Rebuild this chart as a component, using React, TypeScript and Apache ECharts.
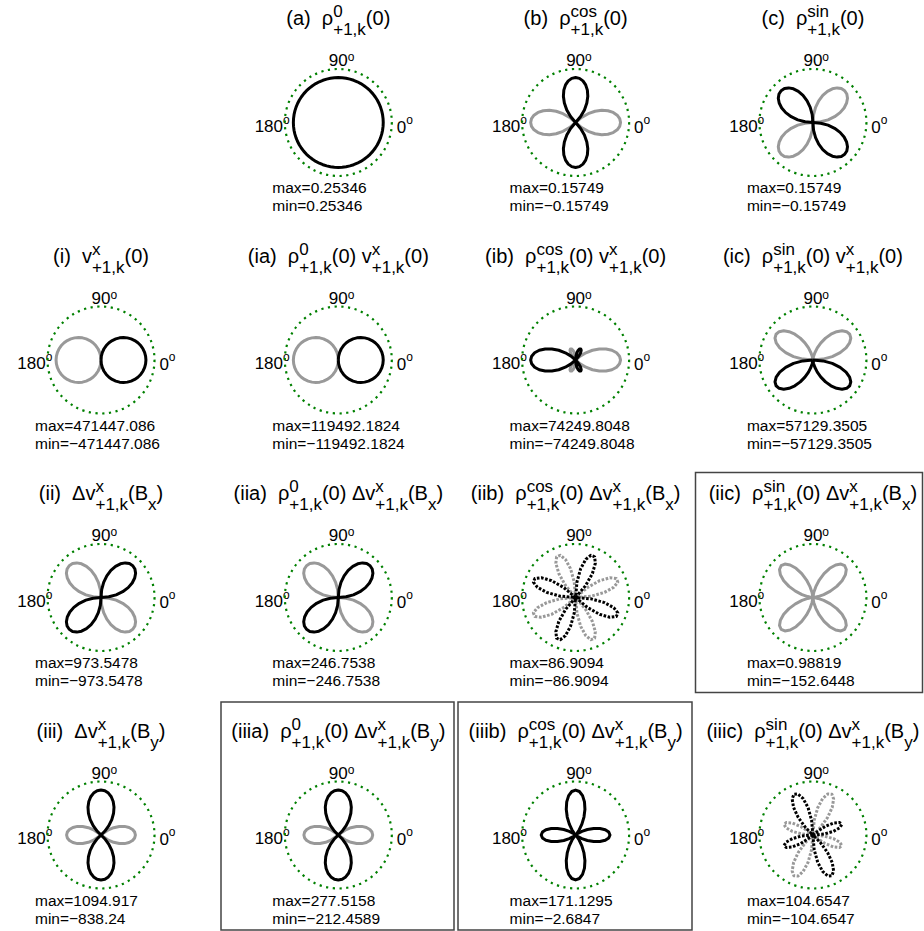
import React, { useEffect, useRef } from 'react';
import * as echarts from 'echarts';

// Sample angles of every angular pattern (degrees, 0 = +x, counter-clockwise)
const ANGLES = [0, 5, 10, 15, 20, 25, 30, 35, 40, 45, 50, 55, 60, 65, 70, 75, 80, 85, 90, 95,
  100, 105, 110, 115, 120, 125, 130, 135, 140, 145, 150, 155, 160, 165, 170, 175, 180, 185, 190, 195,
  200, 205, 210, 215, 220, 225, 230, 235, 240, 245, 250, 255, 260, 265, 270, 275, 280, 285, 290, 295,
  300, 305, 310, 315, 320, 325, 330, 335, 340, 345, 350, 355];

// Angular shapes of the density factors (fraction of each factor's peak)
const RHO0_SHAPE = [1, 1, 1, 1, 1, 1, 1, 1, 1, 1, 1, 1, 1, 1, 1, 1, 1, 1, 1, 1, 1, 1, 1, 1, 1, 1, 1, 1, 1, 1, 1, 1, 1, 1, 1, 1,
  1, 1, 1, 1, 1, 1, 1, 1, 1, 1, 1, 1, 1, 1, 1, 1, 1, 1, 1, 1, 1, 1, 1, 1, 1, 1, 1, 1, 1, 1, 1, 1, 1, 1, 1, 1];
const RHO_COS_SHAPE = [
  -1, -0.985, -0.94, -0.866, -0.766, -0.643, -0.5, -0.342, -0.174, 0, 0.174, 0.342, 0.5, 0.643, 0.766, 0.866, 0.94, 0.985,
  1, 0.985, 0.94, 0.866, 0.766, 0.643, 0.5, 0.342, 0.174, 0, -0.174, -0.342, -0.5, -0.643, -0.766, -0.866, -0.94, -0.985,
  -1, -0.985, -0.94, -0.866, -0.766, -0.643, -0.5, -0.342, -0.174, 0, 0.174, 0.342, 0.5, 0.643, 0.766, 0.866, 0.94, 0.985,
  1, 0.985, 0.94, 0.866, 0.766, 0.643, 0.5, 0.342, 0.174, 0, -0.174, -0.342, -0.5, -0.643, -0.766, -0.866, -0.94, -0.985];
const RHO_SIN_SHAPE = [
  0, -0.174, -0.342, -0.5, -0.643, -0.766, -0.866, -0.94, -0.985, -1, -0.985, -0.94, -0.866, -0.766, -0.643, -0.5, -0.342, -0.174,
  0, 0.174, 0.342, 0.5, 0.643, 0.766, 0.866, 0.94, 0.985, 1, 0.985, 0.94, 0.866, 0.766, 0.643, 0.5, 0.342, 0.174,
  0, -0.174, -0.342, -0.5, -0.643, -0.766, -0.866, -0.94, -0.985, -1, -0.985, -0.94, -0.866, -0.766, -0.643, -0.5, -0.342, -0.174,
  0, 0.174, 0.342, 0.5, 0.643, 0.766, 0.866, 0.94, 0.985, 1, 0.985, 0.94, 0.866, 0.766, 0.643, 0.5, 0.342, 0.174];

// Angular shapes of the velocity factors (fraction of each factor's peak)
const VX_SHAPE = [
  1, 0.996, 0.985, 0.966, 0.94, 0.906, 0.866, 0.819, 0.766, 0.707, 0.643, 0.574, 0.5, 0.423, 0.342, 0.259, 0.174, 0.087,
  0, -0.087, -0.174, -0.259, -0.342, -0.423, -0.5, -0.574, -0.643, -0.707, -0.766, -0.819, -0.866, -0.906, -0.94, -0.966, -0.985, -0.996,
  -1, -0.996, -0.985, -0.966, -0.94, -0.906, -0.866, -0.819, -0.766, -0.707, -0.643, -0.574, -0.5, -0.423, -0.342, -0.259, -0.174, -0.087,
  0, 0.087, 0.174, 0.259, 0.342, 0.423, 0.5, 0.574, 0.643, 0.707, 0.766, 0.819, 0.866, 0.906, 0.94, 0.966, 0.985, 0.996];
const DVX_BX_SHAPE = [
  0, 0.174, 0.342, 0.5, 0.643, 0.766, 0.866, 0.94, 0.985, 1, 0.985, 0.94, 0.866, 0.766, 0.643, 0.5, 0.342, 0.174,
  0, -0.174, -0.342, -0.5, -0.643, -0.766, -0.866, -0.94, -0.985, -1, -0.985, -0.94, -0.866, -0.766, -0.643, -0.5, -0.342, -0.174,
  0, 0.174, 0.342, 0.5, 0.643, 0.766, 0.866, 0.94, 0.985, 1, 0.985, 0.94, 0.866, 0.766, 0.643, 0.5, 0.342, 0.174,
  0, -0.174, -0.342, -0.5, -0.643, -0.766, -0.866, -0.94, -0.985, -1, -0.985, -0.94, -0.866, -0.766, -0.643, -0.5, -0.342, -0.174];
const DVX_BY_SHAPE = [
  -0.7656, -0.752, -0.713, -0.647, -0.559, -0.45, -0.324, -0.185, -0.036, 0.117, 0.271, 0.419, 0.559, 0.685, 0.793, 0.882, 0.947, 0.987,
  1, 0.987, 0.947, 0.882, 0.793, 0.685, 0.559, 0.419, 0.271, 0.117, -0.036, -0.185, -0.324, -0.45, -0.559, -0.647, -0.713, -0.752,
  -0.7656, -0.752, -0.713, -0.647, -0.559, -0.45, -0.324, -0.185, -0.036, 0.117, 0.271, 0.419, 0.559, 0.685, 0.793, 0.882, 0.947, 0.987,
  1, 0.987, 0.947, 0.882, 0.793, 0.685, 0.559, 0.419, 0.271, 0.117, -0.036, -0.185, -0.324, -0.45, -0.559, -0.647, -0.713, -0.752];

const DENSITY_SHAPES = [RHO0_SHAPE, RHO_COS_SHAPE, RHO_SIN_SHAPE];
const DENSITY_PEAKS = [0.25346, 0.15749, 0.15749];
const DENSITY_SUPS = ['0', 'cos', 'sin'];
const VELOCITY_SHAPES = [VX_SHAPE, DVX_BX_SHAPE, DVX_BY_SHAPE];
const VELOCITY_PEAKS = [471447.086, 973.5478, 1094.917];
const VELOCITY_BASES = ['v', 'Δv', 'Δv'];
const VELOCITY_FIELDS = ['', 'x', 'y'];

// Panels: tag, density factor index, velocity factor index (-1 = absent)
const PANEL_TAGS = ['(a)', '(b)', '(c)', '(i)', '(ia)', '(ib)', '(ic)', '(ii)', '(iia)', '(iib)', '(iic)', '(iii)', '(iiia)', '(iiib)', '(iiic)'];
const PANEL_DENSITY = [0, 1, 2, -1, 0, 1, 2, -1, 0, 1, 2, -1, 0, 1, 2];
const PANEL_VELOCITY = [-1, -1, -1, 0, 0, 0, 0, 1, 1, 1, 1, 2, 2, 2, 2];
const MAX_VALUES = [0.25346, 0.15749, 0.15749, 471447.086, 119492.1824, 74249.8048, 57129.3505,
  973.5478, 246.7538, 86.9094, 0.98819, 1094.917, 277.5158, 171.1295, 104.6547];
const MIN_VALUES = [0.25346, -0.15749, -0.15749, -471447.086, -119492.1824, -74249.8048, -57129.3505,
  -973.5478, -246.7538, -86.9094, -152.6448, -838.24, -212.4589, -2.6847, -104.6547];
const BOXED_TAGS = ['(iic)', '(iiia)', '(iiib)'];
const DOTTED_TAGS = ['(iib)', '(iiic)'];

// ---- layout ----
const FONT = 'Liberation Sans';
const CELL_W = 237.3;
const CELL_H = 237.5;
const X0 = 101;
const Y0 = 122.5;
const R = 53.5;
const CURVE_FRACTION = 0.84;
const TITLE_BASE0 = 25;
const BOX_RECTS: Record<string, number[]> = {
  '(iic)': [695.5, 472.5, 227, 220],
  '(iiia)': [221, 702, 233, 228],
  '(iiib)': [458, 702, 234, 228],
};

let measureCtx: CanvasRenderingContext2D | null = null;
function textWidth(t: string, size: number): number {
  if (!measureCtx) measureCtx = document.createElement('canvas').getContext('2d');
  measureCtx!.font = `${size}px "${FONT}"`;
  return measureCtx!.measureText(t).width;
}

function textEl(t: string, size: number, x: number, baseline: number) {
  return {
    type: 'text',
    x,
    y: baseline - 0.35 * size,
    silent: true,
    style: {
      text: t,
      fontSize: size,
      fontFamily: FONT,
      fill: '#000',
      align: 'left',
      verticalAlign: 'middle',
      textAlign: 'left',
      textVerticalAlign: 'middle',
    },
  };
}

type Item =
  | { t: string; size: number; rise?: number }
  | { stack: { t: string; size: number; rise: number }[] }
  | { gap: number };

function itemWidth(it: Item): number {
  if ('gap' in it) return it.gap;
  if ('stack' in it) return Math.max(...it.stack.map((s) => textWidth(s.t, s.size)));
  return textWidth(it.t, it.size);
}

function placeItems(items: Item[], x: number, baseline: number, els: any[]) {
  let cx = x;
  for (const it of items) {
    if ('stack' in it) {
      for (const s of it.stack) els.push(textEl(s.t, s.size, cx, baseline - s.rise));
    } else if ('t' in it) {
      els.push(textEl(it.t, it.size, cx, baseline - (it.rise || 0)));
    }
    cx += itemWidth(it);
  }
}

function titleItems(k: number): Item[] {
  const F = 20;
  const f = 17;
  const SUP = 7.5;
  const SUB = -10.5;
  const d = PANEL_DENSITY[k];
  const v = PANEL_VELOCITY[k];
  const items: Item[] = [{ t: PANEL_TAGS[k], size: F }, { gap: textWidth('  ', F) }];
  if (d >= 0) {
    items.push({ t: 'ρ', size: F });
    items.push({ stack: [{ t: DENSITY_SUPS[d], size: f, rise: SUP }, { t: '+1,k', size: f, rise: SUB }] });
    items.push({ t: '(0)', size: F });
  }
  if (v >= 0) {
    if (d >= 0) items.push({ gap: textWidth(' ', F) });
    items.push({ t: VELOCITY_BASES[v], size: F });
    items.push({ stack: [{ t: 'x', size: f, rise: SUP }, { t: '+1,k', size: f, rise: SUB }] });
    if (VELOCITY_FIELDS[v]) {
      items.push({ t: '(B', size: F });
      items.push({ t: VELOCITY_FIELDS[v], size: f, rise: SUB });
      items.push({ t: ')', size: F });
    } else {
      items.push({ t: '(0)', size: F });
    }
  }
  return items;
}

function fmt(v: number): string {
  return v < 0 ? '\u2212' + String(-v) : String(v);
}

// Panel value = density factor × velocity factor, scaled to the quoted extremes
function panelValues(k: number): number[] {
  const d = PANEL_DENSITY[k];
  const v = PANEL_VELOCITY[k];
  const raw = ANGLES.map((_, i) => {
    const dens = d >= 0 ? DENSITY_SHAPES[d][i] * DENSITY_PEAKS[d] : 1;
    const vel = v >= 0 ? VELOCITY_SHAPES[v][i] * VELOCITY_PEAKS[v] : 1;
    return dens * vel;
  });
  const quoted = Math.max(Math.abs(MAX_VALUES[k]), Math.abs(MIN_VALUES[k]));
  const rawPeak = Math.max(...raw.map(Math.abs));
  return raw.map((x) => (x * quoted) / rawPeak);
}

type Run = { sign: number; pts: number[][] };
function splitBySign(values: number[]): Run[] {
  const n = values.length;
  const sg = values.map((x) => (x > 0 ? 1 : x < 0 ? -1 : 0));
  if (sg[0] !== 0 && sg.every((s) => s === sg[0])) {
    const pts = values.map((x, i) => [Math.abs(x), ANGLES[i]]);
    pts.push([Math.abs(values[0]), 360]);
    return [{ sign: sg[0], pts }];
  }
  let start = 0;
  for (let i = 0; i < n; i++) {
    if (sg[i] !== sg[(i + n - 1) % n]) { start = i; break; }
  }
  const runs: Run[] = [];
  let cur: Run | null = null;
  for (let j = 0; j < n; j++) {
    const i = (start + j) % n;
    const a = ANGLES[i];
    if (sg[i] === 0) {
      if (cur) { cur.pts.push([0, a]); runs.push(cur); cur = null; }
      continue;
    }
    if (cur && cur.sign !== sg[i]) { cur.pts.push([0, a]); runs.push(cur); cur = null; }
    if (!cur) cur = { sign: sg[i], pts: [[0, a]] };
    cur.pts.push([Math.abs(values[i]), a]);
  }
  if (cur) { cur.pts.push([0, 0]); runs.push(cur); }
  return runs;
}

function buildOption() {
  const polar: any[] = [];
  const angleAxis: any[] = [];
  const radiusAxis: any[] = [];
  const series: any[] = [];
  const graphic: any[] = [];

  PANEL_TAGS.forEach((tag, k) => {
    const slot = k + 1;
    const row = Math.floor(slot / 4);
    const col = slot % 4;
    const cx = X0 + CELL_W * col;
    const cy = Y0 + CELL_H * row;
    const quoted = Math.max(Math.abs(MAX_VALUES[k]), Math.abs(MIN_VALUES[k]));

    polar.push({ center: [cx, cy], radius: [0, R] });
    angleAxis.push({
      polarIndex: k,
      type: 'value',
      min: 0,
      max: 360,
      startAngle: 0,
      clockwise: false,
      axisLine: { show: true, lineStyle: { color: '#008000', width: 2.2, type: [2.2, 4.5] } },
      axisTick: { show: false },
      axisLabel: { show: false },
      splitLine: { show: false },
      splitArea: { show: false },
    });
    radiusAxis.push({
      polarIndex: k,
      type: 'value',
      min: 0,
      max: quoted / CURVE_FRACTION,
      show: false,
      axisLine: { show: false },
      axisTick: { show: false },
      axisLabel: { show: false },
      splitLine: { show: false },
    });

    const dotted = DOTTED_TAGS.includes(tag);
    splitBySign(panelValues(k)).forEach((run) => {
      series.push({
        type: 'line',
        coordinateSystem: 'polar',
        polarIndex: k,
        data: run.pts,
        symbol: 'none',
        silent: true,
        clip: false,
        z: run.sign > 0 ? 4 : 3,
        emphasis: { disabled: true },
        lineStyle: {
          color: run.sign > 0 ? '#000000' : '#999999',
          width: 3,
          type: dotted ? [2.6, 1.6] : 'solid',
          join: 'round',
        },
      });
    });

    // title
    const items = titleItems(k);
    const w = items.reduce((s, it) => s + itemWidth(it), 0);
    placeItems(items, cx - w / 2, TITLE_BASE0 + CELL_H * row, graphic);

    // direction labels
    const L = 17;
    const S = 12;
    const w90 = textWidth('90', L);
    placeItems([{ t: '90', size: L }, { t: 'o', size: S, rise: 5.5 }], cx - w90 / 2, cy - 55.8, graphic);
    const w180 = textWidth('180', L);
    placeItems([{ t: '180', size: L }, { t: 'o', size: S, rise: 8 }], cx - 55.3 - w180, cy + 9.5, graphic);
    placeItems([{ t: '0', size: L }, { t: 'o', size: S, rise: 9 }], cx + 58.4, cy + 10.5, graphic);

    // extremes
    graphic.push(textEl('max=' + fmt(MAX_VALUES[k]), 15.5, cx - 66, cy + 70.5));
    graphic.push(textEl('min=' + fmt(MIN_VALUES[k]), 15.5, cx - 66, cy + 88.5));

    if (BOXED_TAGS.includes(tag)) {
      const [bx, by, bw, bh] = BOX_RECTS[tag];
      graphic.push({
        type: 'rect',
        silent: true,
        shape: { x: bx, y: by, width: bw, height: bh },
        style: { fill: 'none', stroke: '#444444', lineWidth: 1.5 },
      });
    }
  });

  return {
    animation: false,
    backgroundColor: '#ffffff',
    polar,
    angleAxis,
    radiusAxis,
    series,
    graphic,
  };
}

export default function App() {
  const ref = useRef<HTMLDivElement>(null);
  useEffect(() => {
    const chart = echarts.init(ref.current!, null, { renderer: 'svg' });
    chart.setOption(buildOption() as any);
    return () => chart.dispose();
  }, []);
  return (
    <div
      ref={ref}
      style={{ position: 'fixed', left: 0, top: 0, width: 924, height: 931, background: '#ffffff' }}
    />
  );
}
